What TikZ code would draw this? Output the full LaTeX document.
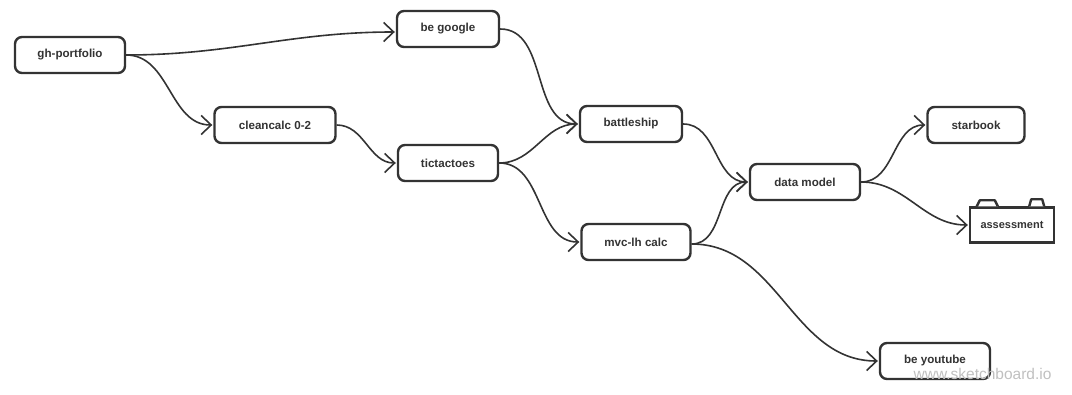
\documentclass[tikz,border=0pt]{standalone}
\usepackage{fontspec}
\setmainfont{Liberation Sans}
\usepackage{tikz}
\usetikzlibrary{arrows.meta}

\definecolor{ink}{HTML}{333333}
\definecolor{faint}{HTML}{C0C0C0}

\begin{document}
\begin{tikzpicture}[
    x=1pt, y=-1pt,
    card/.style={rectangle, draw=ink, line width=2.4pt, fill=white, rounded corners=7pt, align=center, minimum height=36pt, text=ink, font=\fontsize{11.6}{13}\selectfont\bfseries},
    box/.style={rectangle, draw=ink, line width=2.4pt, fill=white, align=center, minimum height=35pt, text=ink, font=\fontsize{11}{13}\selectfont\bfseries},
    arrow/.style={-{Straight Barb[length=10pt,width=19pt]}, line width=1.6pt, draw=ink, shorten >=1pt}
]
    \useasboundingbox (0,0) rectangle (1072,395);

    \node [card, minimum width=110pt] (gh) at (70,55) {gh-portfolio};
    \node [card, minimum width=102pt] (google) at (448,29) {be google};
    \node [card, minimum width=121pt] (clean) at (275,125) {cleancalc 0-2};
    \node [card, minimum width=100pt] (ttt) at (448,163) {tictactoes};
    \node [card, minimum width=102pt] (ship) at (631,124) {battleship};
    \node [card, minimum width=109pt] (mvc) at (636,242) {mvc-lh calc};
    \node [card, minimum width=110pt] (model) at (805,182) {data model};
    \node [card, minimum width=97pt] (star) at (976,125) {starbook};
    \node [box, minimum width=84pt] (assess) at (1012,225) {assessment};
    \node [card, minimum width=110pt] (youtube) at (935,361) {be youtube};

    % tabs on top of the assessment box
    \fill [white] ([xshift=8pt]assess.north west) -- ++(3,-6) -- ++(15,0) -- ++(3,6) -- cycle;
    \draw [ink, line width=2.4pt, line join=round] ([xshift=8pt]assess.north west) -- ++(3,-6) -- ++(15,0) -- ++(3,6);
    \fill [white] ([xshift=-26pt]assess.north east) -- ++(2,-7) -- ++(11,0) -- ++(2,7) -- cycle;
    \draw [ink, line width=2.4pt, line join=round] ([xshift=-26pt]assess.north east) -- ++(2,-7) -- ++(11,0) -- ++(2,7);

    \draw [arrow] (gh.east) to[out=0, in=180] ([yshift=-3pt]google.west);
    \draw [arrow] (gh.east) to[out=0, in=180] (clean.west);
    \draw [arrow] (clean.east) to[out=0, in=180] (ttt.west);
    \draw [arrow] (google.east) to[out=0, in=180] (ship.west);
    \draw [arrow] (ttt.east) to[out=0, in=180] (ship.west);
    \draw [arrow] (ttt.east) to[out=0, in=180] (mvc.west);
    \draw [arrow] (ship.east) to[out=0, in=180] (model.west);
    \draw [arrow] ([yshift=-2pt]mvc.east) to[out=0, in=180] (model.west);
    \draw [arrow] ([yshift=-2pt]mvc.east) to[out=0, in=180] (youtube.west);
    \draw [arrow] (model.east) to[out=0, in=180] (star.west);
    \draw [arrow] (model.east) to[out=0, in=180] (assess.west);

    \node [faint, font=\fontsize{15.5}{17}\selectfont, anchor=east] (site) at (1055,374) {www.sketchboard.io};
\end{tikzpicture}
\end{document}
